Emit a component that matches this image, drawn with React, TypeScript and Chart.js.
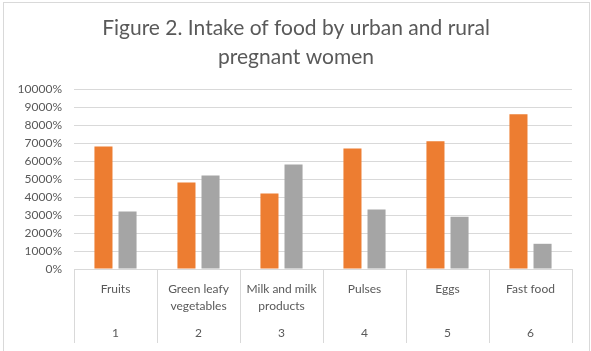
import React, { useEffect, useRef } from "react";
import { Chart, registerables } from "chart.js";

Chart.register(...registerables);

const categories: string[][] = [
  ["Fruits"],
  ["Green leafy", "vegetables"],
  ["Milk and milk", "products"],
  ["Pulses"],
  ["Eggs"],
  ["Fast food"],
];
const categoryNumbers = ["1", "2", "3", "4", "5", "6"];
const urbanValues = [6800, 4800, 4200, 6700, 7100, 8600];
const ruralValues = [3200, 5200, 5800, 3300, 2900, 1400];
const titleLines = ["Figure 2. Intake of food by urban and rural", "pregnant women"];

const FONT = "Lato, 'Open Sans', sans-serif";
const TEXT = "#595959";
const GRID = "#d9d9d9";

const framePlugin = {
  id: "frame",
  beforeDraw(chart: any) {
    const ctx = chart.ctx;
    ctx.save();
    ctx.strokeStyle = GRID;
    ctx.lineWidth = 1;
    ctx.strokeRect(3.5, 2.5, 586, 380);
    ctx.restore();
  },
  afterDraw(chart: any) {
    const ctx = chart.ctx;
    const xs = chart.scales.x;
    const x2 = chart.scales.x2;
    const n = categories.length;
    ctx.save();
    ctx.strokeStyle = GRID;
    ctx.lineWidth = 1;
    for (let i = 0; i <= n; i++) {
      const px = Math.round(xs.left + (i * xs.width) / n) + 0.5;
      ctx.beginPath();
      ctx.moveTo(px, xs.top);
      ctx.lineTo(px, x2.bottom - 2);
      ctx.stroke();
    }
    // title
    ctx.fillStyle = TEXT;
    ctx.font = "21px " + FONT;
    ctx.textAlign = "center";
    ctx.textBaseline = "middle";
    titleLines.forEach((line, i) => {
      ctx.fillText(line, 296, 28 + i * 29);
    });
    ctx.restore();
  },
};

export default function App() {
  const ref = useRef<HTMLCanvasElement | null>(null);
  useEffect(() => {
    if (!ref.current) return;
    const chart = new Chart(ref.current, {
      type: "bar",
      data: {
        labels: categories,
        datasets: [
          {
            label: "Urban",
            data: urbanValues,
            backgroundColor: "#ED7D31",
            categoryPercentage: 0.58,
            barPercentage: 0.75,
          },
          {
            label: "Rural",
            data: ruralValues,
            backgroundColor: "#A5A5A5",
            categoryPercentage: 0.58,
            barPercentage: 0.75,
          },
        ],
      },
      plugins: [framePlugin],
      options: {
        responsive: false,
        animation: false,
        devicePixelRatio: 1,
        layout: { padding: { left: 10, right: 19, top: 89, bottom: 6 } },
        plugins: {
          legend: { display: false },
          tooltip: { enabled: false },
          title: { display: false },
        },
        scales: {
          y: {
            min: 0,
            max: 10000,
            ticks: {
              stepSize: 1000,
              color: TEXT,
              font: { family: FONT, size: 12 },
              padding: 12,
              callback: (v: any) => v + "%",
            },
            grid: { color: GRID, drawTicks: false },
            border: { display: false },
            afterFit: (s: any) => {
              s.width = 64;
            },
          },
          x: {
            type: "category",
            offset: true,
            ticks: {
              color: TEXT,
              font: { family: FONT, size: 12, lineHeight: "17px" },
              padding: 11.5,
              maxRotation: 0,
              autoSkip: false,
            },
            grid: { display: false, drawTicks: false, offset: true },
            border: { display: true, color: GRID },
            afterFit: (s: any) => {
              s.height = 49;
            },
          },
          x2: {
            type: "category",
            position: "bottom",
            labels: categoryNumbers,
            offset: true,
            ticks: {
              color: TEXT,
              font: { family: FONT, size: 12, lineHeight: "17px" },
              padding: 6.5,
              maxRotation: 0,
              autoSkip: false,
            },
            grid: { display: false, drawTicks: false, offset: true },
            border: { display: false },
            afterFit: (s: any) => {
              s.height = 27;
            },
          },
        },
      } as any,
    });
    return () => chart.destroy();
  }, []);
  return (
    <canvas
      ref={ref}
      width={591}
      height={351}
      style={{ position: "fixed", left: 0, top: 0, width: 591, height: 351, background: "#fff" }}
    />
  );
}
